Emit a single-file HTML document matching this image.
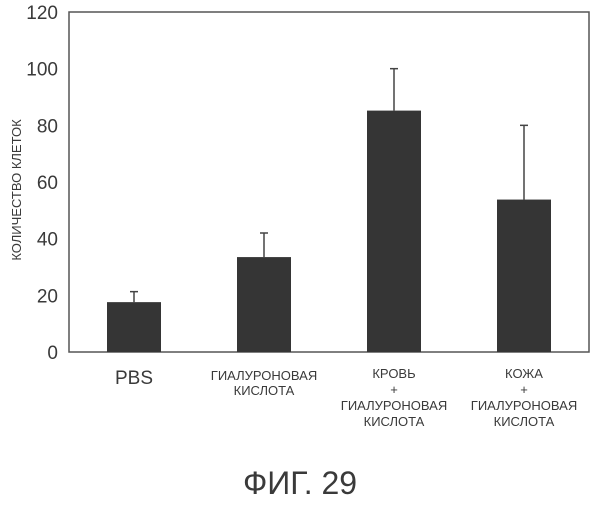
<!DOCTYPE html>
<html><head><meta charset="utf-8"><style>
body{margin:0;background:#fff;}
text{font-family:"Liberation Sans",sans-serif;fill:#3a3a3a;}
</style></head><body>
<svg width="605" height="500">
<g id="plot"></g>
<text x="300" y="494" font-size="32" text-anchor="middle">ФИГ. 29</text>
</svg>
<script>
const categories=[["PBS"],["ГИАЛУРОНОВАЯ","КИСЛОТА"],["КРОВЬ","+","ГИАЛУРОНОВАЯ","КИСЛОТА"],["КОЖА","+","ГИАЛУРОНОВАЯ","КИСЛОТА"]];
const values=[17.6,33.5,85.2,53.8];
const errors=[21.3,42,100,80];
const yTicks=[0,20,40,60,80,100,120];
const NS="http://www.w3.org/2000/svg";
const g=document.getElementById('plot');
const L=69,R=589,T=12,B=352,yMax=120;
const y=v=>B-(v/yMax)*(B-T);
const band=(R-L)/categories.length;
const xc=i=>L+band*(i+0.5);
function mk(t,a){const e=document.createElementNS(NS,t);for(const k in a)e.setAttribute(k,a[k]);g.appendChild(e);return e;}
let e=mk('rect',{x:L,y:T,width:R-L,height:B-T,fill:'none',stroke:'#555','stroke-width':1.5});


yTicks.forEach(t=>{const tx=mk('text',{x:58,y:y(t)+7,'font-size':19,'text-anchor':'end'});tx.textContent=t;

});
const yt=mk('text',{x:0,y:0,'font-size':13,'text-anchor':'middle',transform:'translate(21,190) rotate(-90)'});
yt.textContent='КОЛИЧЕСТВО КЛЕТОК';


values.forEach((v,i)=>{
 const w=54,cx=xc(i);
 const ln=mk('line',{x1:cx,x2:cx,y1:y(errors[i]),y2:y(v),stroke:'#444','stroke-width':1.5});
 
 
 const cap=mk('line',{x1:cx-4,x2:cx+4,y1:y(errors[i]),y2:y(errors[i]),stroke:'#444','stroke-width':1.5});
 
 
 const r=mk('rect',{x:cx-w/2,y:y(v),width:w,height:B-y(v),fill:'#353535'});
 
 
 const lines=categories[i];
 lines.forEach((s,j)=>{
  const big=lines.length===1;
  const t=mk('text',{x:cx,y:big?384:(lines.length===2?380+j*15:378+j*16),'font-size':big?19:13,'text-anchor':'middle'});
  t.textContent=s;
  
  
 });
});
</script>
</body></html>
